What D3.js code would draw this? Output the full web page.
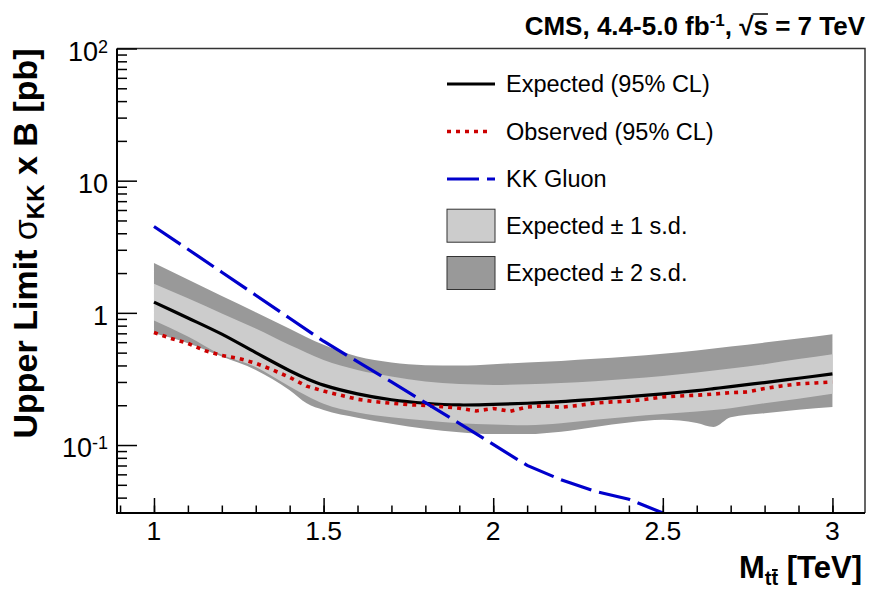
<!DOCTYPE html>
<html>
<head>
<meta charset="utf-8">
<script src="https://cdnjs.cloudflare.com/ajax/libs/d3/7.8.5/d3.min.js"></script>
<style>
    body { margin: 0; background: #ffffff; }
    svg { font-family: "Liberation Sans", Arial, Helvetica, sans-serif; }
</style>
</head>
<body>
<div class="plot"></div>
<script>
// expected limit and bands (TeV, pb)
var massPoints    = [1.0, 1.1, 1.2, 1.3, 1.4, 1.45, 1.5, 1.6, 1.7, 1.8, 1.9, 2.0, 2.1, 2.2, 2.3, 2.4, 2.5, 2.6, 2.65, 2.7, 2.8, 2.9, 3.0];
var twoSigmaUp    = [2.38, 1.79, 1.34, 1.01, 0.757, 0.655, 0.573, 0.467, 0.421, 0.402, 0.399, 0.409, 0.421, 0.433, 0.449, 0.467, 0.49, 0.519, 0.537, 0.556, 0.596, 0.639, 0.69];
var oneSigmaUp    = [1.66, 1.29, 0.99, 0.76, 0.57, 0.50, 0.44, 0.37, 0.33, 0.302, 0.289, 0.285, 0.288, 0.294, 0.304, 0.317, 0.333, 0.354, 0.366, 0.379, 0.409, 0.447, 0.487];
var expectedLimit = [1.205, 0.915, 0.69, 0.50, 0.365, 0.318, 0.284, 0.244, 0.22, 0.207, 0.201, 0.203, 0.207, 0.213, 0.222, 0.232, 0.244, 0.258, 0.267, 0.277, 0.297, 0.32, 0.345];
var oneSigmaDown  = [0.874, 0.662, 0.481, 0.389, 0.277, 0.236, 0.205, 0.176, 0.162, 0.153, 0.146, 0.143, 0.141, 0.146, 0.155, 0.164, 0.172, 0.179, 0.184, 0.19, 0.207, 0.224, 0.244];
var twoSigmaDown  = [0.70, 0.59, 0.467, 0.37, 0.26, 0.207, 0.184, 0.161, 0.145, 0.133, 0.125, 0.121, 0.121, 0.126, 0.137, 0.148, 0.155, 0.147, 0.137, 0.162, 0.174, 0.185, 0.194];

// observed limit
var observedMass  = [1.0, 1.05, 1.1, 1.15, 1.2, 1.25, 1.3, 1.35, 1.4, 1.45, 1.5, 1.55, 1.6, 1.65, 1.7, 1.75, 1.8, 1.85, 1.9, 1.95, 2.0,
                     2.05, 2.1, 2.15, 2.2, 2.25, 2.3, 2.35, 2.4, 2.45, 2.5, 2.55, 2.6, 2.65, 2.7, 2.75, 2.8, 2.85, 2.9, 2.95, 3.0];
var observedLimit = [0.71, 0.64, 0.588, 0.518, 0.476, 0.452, 0.416, 0.37, 0.325, 0.279, 0.256, 0.238, 0.222, 0.213, 0.207, 0.202, 0.199, 0.195, 0.19, 0.181, 0.189,
                     0.18, 0.194, 0.198, 0.193, 0.199, 0.208, 0.212, 0.215, 0.222, 0.231, 0.235, 0.238, 0.243, 0.249, 0.252, 0.268, 0.28, 0.29, 0.295, 0.30];

// KK gluon cross section
var gluonMass = [1.0, 1.1, 1.2, 1.3, 1.4, 1.5, 1.6, 1.7, 1.8, 1.9, 2.0, 2.1, 2.2, 2.3, 2.4, 2.5, 2.6];
var gluonXsec = [4.5, 3.03, 2.03, 1.36, 0.91, 0.61, 0.427, 0.30, 0.209, 0.146, 0.101, 0.0701, 0.0546, 0.0447, 0.0389, 0.0306, 0.0225];

var xMajorTicks = [1, 1.5, 2, 2.5, 3];
var xTickLabels = ["1", "1.5", "2", "2.5", "3"];
var yMajorTicks = [0.1, 1, 10, 100];
var yTickLabels = [["10", "-1"], ["1", ""], ["10", ""], ["10", "2"]];
var legendLabels = ["Expected (95% CL)", "Observed (95% CL)", "KK Gluon", "Expected \u00b1 1 s.d.", "Expected \u00b1 2 s.d."];

var LimitPlot = {
    width: 869,
    height: 590,
    left: 117,
    right: 865,
    top: 48.5,
    bottom: 513,
    xDomain: [0.891, 3.096],
    yDomain: [0.0306, 100],
    lightBand: "#cccccc",
    darkBand: "#999999",
    red: "#cc0000",
    blue: "#0000cc",
    canvas: '',
    x: '',
    y: '',
    init: function () {
        this.defineCanvas()
            .defineScales()
            .drawBands()
            .drawLines()
            .drawAxes()
            .drawLegend()
            .drawTitles();
    },
    defineCanvas: function () {
        this.canvas = d3.select(".plot")
                        .append("svg")
                        .attr("width", this.width)
                        .attr("height", this.height);

        this.canvas.append("clipPath")
            .attr("id", "frame")
            .append("rect")
            .attr("x", this.left)
            .attr("y", this.top)
            .attr("width", this.right - this.left)
            .attr("height", this.bottom - this.top);

        return this;
    },
    defineScales: function () {
        this.x = d3.scaleLinear().domain(this.xDomain).range([this.left, this.right]);
        this.y = d3.scaleLog().domain(this.yDomain).range([this.bottom, this.top]);

        return this;
    },
    drawBands: function () {
        var x = this.x, y = this.y;
        var band = function (low, high) {
            return d3.area()
                     .curve(d3.curveMonotoneX)
                     .x(function (d, i) { return x(massPoints[i]); })
                     .y0(function (d, i) { return y(low[i]); })
                     .y1(function (d, i) { return y(high[i]); });
        };

        var g = this.canvas.append("g").attr("clip-path", "url(#frame)");
        g.append("path")
            .attr("d", band(twoSigmaDown, twoSigmaUp)(massPoints))
            .attr("fill", this.darkBand);
        g.append("path")
            .attr("d", band(oneSigmaDown, oneSigmaUp)(massPoints))
            .attr("fill", this.lightBand);

        return this;
    },
    drawLines: function () {
        var x = this.x, y = this.y;
        var g = this.canvas.append("g").attr("clip-path", "url(#frame)");

        var expectedLine = d3.line()
                             .curve(d3.curveCatmullRom.alpha(0.5))
                             .x(function (d, i) { return x(massPoints[i]); })
                             .y(function (d) { return y(d); });
        g.append("path")
            .attr("d", expectedLine(expectedLimit))
            .attr("fill", "none")
            .attr("stroke", "#000")
            .attr("stroke-width", 3.2);

        var observedLine = d3.line()
                             .x(function (d, i) { return x(observedMass[i]); })
                             .y(function (d) { return y(d); });
        g.append("path")
            .attr("d", observedLine(observedLimit))
            .attr("fill", "none")
            .attr("stroke", this.red)
            .attr("stroke-width", 3.6)
            .attr("stroke-dasharray", "4,5");

        var gluonLine = d3.line()
                          .x(function (d, i) { return x(gluonMass[i]); })
                          .y(function (d) { return y(d); });
        g.append("path")
            .attr("d", gluonLine(gluonXsec))
            .attr("fill", "none")
            .attr("stroke", this.blue)
            .attr("stroke-width", 3.2)
            .attr("stroke-dasharray", "32,8");

        return this;
    },
    drawAxes: function () {
        var x = this.x, y = this.y;
        var axes = this.canvas.append("g");

        // frame
        axes.append("path")
            .attr("d", "M" + this.left + "," + this.top + "H" + this.right + "V" + this.bottom)
            .attr("fill", "none")
            .attr("stroke", "#333")
            .attr("stroke-width", 1.5);

        // x axis
        var xMinor = d3.range(9, 31).map(function (d) { return d / 10; });
        var xAxis = d3.axisBottom(x)
                      .tickValues(xMinor)
                      .tickSize(-7.5)
                      .tickFormat("");
        axes.append("g")
            .attr("transform", "translate(0," + this.bottom + ")")
            .call(xAxis)
            .call(function (s) { s.select(".domain").remove(); })
            .selectAll("line")
            .attr("stroke", "#000")
            .attr("stroke-width", 1.5);

        axes.append("g")
            .attr("transform", "translate(0," + this.bottom + ")")
            .call(d3.axisBottom(x).tickValues(xMajorTicks).tickSize(-15).tickFormat(""))
            .call(function (s) { s.select(".domain").remove(); })
            .selectAll("line")
            .attr("stroke", "#000")
            .attr("stroke-width", 1.5);

        axes.selectAll(".xlabel")
            .data(xMajorTicks)
            .enter()
            .append("text")
            .attr("x", function (d) { return x(d); })
            .attr("y", this.bottom + 27)
            .attr("text-anchor", "middle")
            .attr("font-size", 26.5)
            .text(function (d, i) { return xTickLabels[i]; });

        // y axis
        var yMinor = [];
        [0.01, 0.1, 1, 10].forEach(function (decade) {
            for (var k = 2; k <= 9; k++) {
                var v = k * decade;
                if (v >= LimitPlot.yDomain[0] && v <= LimitPlot.yDomain[1]) yMinor.push(v);
            }
        });
        axes.append("g")
            .attr("transform", "translate(" + this.left + ",0)")
            .call(d3.axisLeft(y).tickValues(yMinor).tickSize(-10).tickFormat(""))
            .call(function (s) { s.select(".domain").remove(); })
            .selectAll("line")
            .attr("stroke", "#000")
            .attr("stroke-width", 1.5);
        axes.append("g")
            .attr("transform", "translate(" + this.left + ",0)")
            .call(d3.axisLeft(y).tickValues(yMajorTicks).tickSize(-20).tickFormat(""))
            .call(function (s) { s.select(".domain").remove(); })
            .selectAll("line")
            .attr("stroke", "#000")
            .attr("stroke-width", 1.5);

        var yLabels = axes.selectAll(".ylabel")
                          .data(yMajorTicks)
                          .enter()
                          .append("text")
                          .attr("x", this.left - 9)
                          .attr("y", function (d) { return y(d) + 12; })
                          .attr("text-anchor", "end")
                          .attr("font-size", 27);
        yLabels.append("tspan")
            .text(function (d, i) { return yTickLabels[i][0]; });
        yLabels.append("tspan")
            .attr("dy", -8)
            .attr("font-size", 18)
            .text(function (d, i) { return yTickLabels[i][1]; });

        // axis lines
        axes.append("path")
            .attr("d", "M" + this.left + "," + this.top + "V" + this.bottom + "H" + this.right)
            .attr("fill", "none")
            .attr("stroke", "#000")
            .attr("stroke-width", 2);

        return this;
    },
    drawLegend: function () {
        var rows = [84, 131.5, 179, 225.7, 273];
        var x0 = 447, x1 = 495, textX = 506;
        var legend = this.canvas.append("g");

        legend.append("line")
            .attr("x1", x0).attr("x2", x1).attr("y1", rows[0]).attr("y2", rows[0])
            .attr("stroke", "#000").attr("stroke-width", 3.2);
        legend.append("line")
            .attr("x1", x0).attr("x2", x1 - 4).attr("y1", rows[1]).attr("y2", rows[1])
            .attr("stroke", this.red).attr("stroke-width", 3.6).attr("stroke-dasharray", "4,5");
        legend.append("line")
            .attr("x1", x0).attr("x2", x1).attr("y1", rows[2]).attr("y2", rows[2])
            .attr("stroke", this.blue).attr("stroke-width", 3.2).attr("stroke-dasharray", "32,8");

        [this.lightBand, this.darkBand].forEach(function (c, i) {
            legend.append("rect")
                .attr("x", x0).attr("y", rows[3 + i] - 16.5)
                .attr("width", x1 - x0).attr("height", 33)
                .attr("fill", c)
                .attr("stroke", "#333")
                .attr("stroke-width", 1);
        });

        legend.selectAll(".legendtext")
            .data(legendLabels)
            .enter()
            .append("text")
            .attr("x", textX)
            .attr("y", function (d, i) { return rows[i] + 8; })
            .attr("font-size", 23.5)
            .text(function (d) { return d; });

        return this;
    },
    drawTitles: function () {
        // y title
        var yTitle = this.canvas.append("text")
                         .attr("transform", "translate(37," + this.top + ") rotate(-90)")
                         .attr("text-anchor", "end")
                         .attr("font-size", 34)
                         .attr("font-weight", "bold");
        yTitle.append("tspan").text("Upper Limit ");
        yTitle.append("tspan").attr("font-weight", "normal").text("\u03c3");
        yTitle.append("tspan").attr("font-size", 24).attr("dy", 7).text("KK");
        yTitle.append("tspan").attr("dy", -7).text(" x B [pb]");

        // x title
        var xTitle = this.canvas.append("text")
                         .attr("x", 862)
                         .attr("y", 578)
                         .attr("text-anchor", "end")
                         .attr("font-size", 31)
                         .attr("font-weight", "bold");
        xTitle.append("tspan").text("M");
        xTitle.append("tspan").attr("font-size", 20).attr("dy", 7).text("tt");
        xTitle.append("tspan").attr("dy", -7).text(" [TeV]");
        var node = xTitle.node();
        var barStart = node.getStartPositionOfChar(2).x;
        var barEnd = node.getEndPositionOfChar(2).x;
        this.canvas.append("line")
            .attr("x1", barStart + 0.5).attr("x2", barEnd - 0.5)
            .attr("y1", 570).attr("y2", 570)
            .attr("stroke", "#000").attr("stroke-width", 2);

        // top caption
        var caption = this.canvas.append("text")
                          .attr("x", 865)
                          .attr("y", 35)
                          .attr("text-anchor", "end")
                          .attr("font-size", 26)
                          .attr("font-weight", "bold");
        caption.append("tspan").text("CMS, 4.4-5.0 fb");
        caption.append("tspan").attr("font-size", 17).attr("dy", -9).text("-1");
        caption.append("tspan").attr("dy", 9).text(", \u221as = 7 TeV");
        var cnode = caption.node();
        var sStart = cnode.getEndPositionOfChar(19).x;
        var sEnd = cnode.getEndPositionOfChar(20).x;
        this.canvas.append("line")
            .attr("x1", sStart - 1).attr("x2", sEnd)
            .attr("y1", 14).attr("y2", 14)
            .attr("stroke", "#000").attr("stroke-width", 1.5);

        return this;
    }
};

LimitPlot.init();
</script>
</body>
</html>
